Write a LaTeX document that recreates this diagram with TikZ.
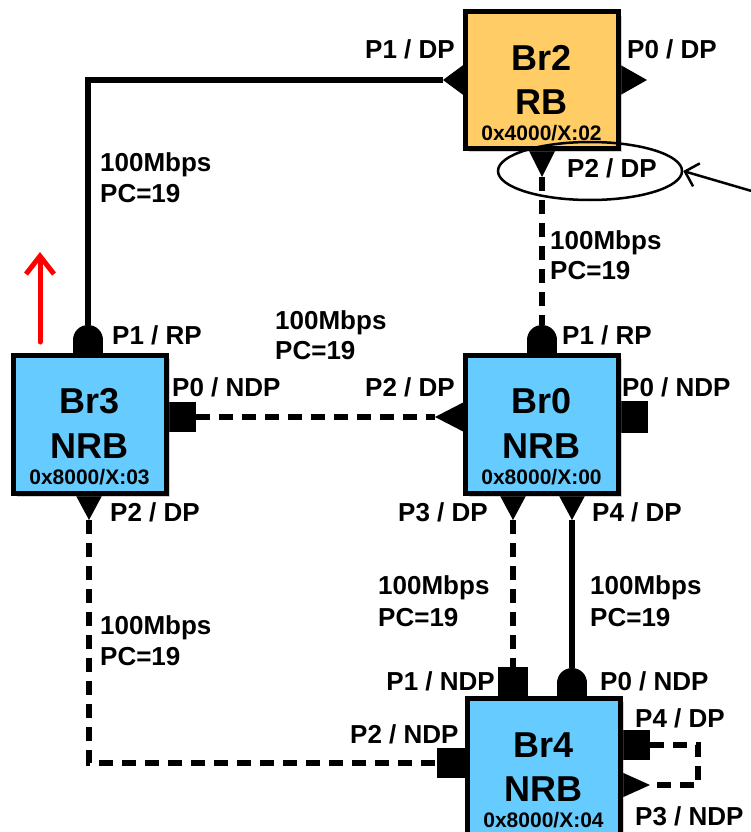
\documentclass[tikz,border=0pt]{standalone}
\usepackage{fontspec}
\setmainfont{Liberation Sans}
\usetikzlibrary{arrows.meta,shapes.geometric,shadows}
\definecolor{nrbblue}{HTML}{66CCFF}
\definecolor{rborange}{HTML}{FFCC66}
\tikzset{
  bridge/.style={draw=black, line width=5pt, minimum width=153pt, minimum height=138pt, inner sep=0pt,
    drop shadow={shadow xshift=4pt, shadow yshift=-4pt, opacity=0.35}},
  link/.style={line width=6pt},
  dlink/.style={line width=6pt, dash pattern=on 14pt off 9pt},
  lbl/.style={font=\fontsize{26}{30}\selectfont\bfseries, inner sep=0pt},
  big/.style={font=\fontsize{36}{40}\selectfont\bfseries, inner sep=0pt},
  idl/.style={font=\fontsize{21}{24}\selectfont\bfseries, inner sep=0pt},
}
\begin{document}
\begin{tikzpicture}[x=1pt,y=-1pt]
\useasboundingbox (0,0) rectangle (750,832);

% ---- port coordinates
\coordinate (br2p1) at (443,80);
\coordinate (br2p2) at (542,177);
\coordinate (br3p1) at (88,325);
\coordinate (br3p0) at (196,417);
\coordinate (br3p2) at (89,520);
\coordinate (br0p1) at (542,325);
\coordinate (br0p2) at (435,417);
\coordinate (br0p3) at (513,520);
\coordinate (br0p4) at (572,520);
\coordinate (br4p1) at (513,667);
\coordinate (br4p0) at (572,668);
\coordinate (br4p2) at (437,763);
\coordinate (br4p4) at (650,745);
\coordinate (br4p3) at (650,785);
\coordinate (loopa) at (698,745);
\coordinate (loopb) at (698,785);

% ---- connectors
\draw[link] (br2p1) -| (br3p1);
\draw[dlink] (br2p2) -- (br0p1);
\draw[dlink] (br3p0) -- (br0p2);
\draw[dlink] (br3p2) |- (br4p2);
\draw[dlink] (br0p3) -- (br4p1);
\draw[link] (br0p4) -- (br4p0);
\draw[dlink] (br4p4) -- (loopa) -- (loopb) -- (br4p3);

% ---- ports
% Br2
\fill (466,63) -- (443,80) -- (466,97) -- cycle;
\fill (617,63) -- (647,80) -- (617,97) -- cycle;
\fill (527,147) -- (542,177) -- (557,147) -- cycle;
% Br3
\fill (88,340) circle (15);
\fill (73,340) rectangle (103,356);
\fill (165,402) rectangle (196,432);
\fill (74,492) -- (89,520) -- (104,492) -- cycle;
% Br0
\fill (542,340) circle (15);
\fill (527,340) rectangle (557,356);
\fill (466,401) -- (435,417) -- (466,433) -- cycle;
\fill (617,401) rectangle (648,433);
\fill (498,492) -- (513,520) -- (528,492) -- cycle;
\fill (557,492) -- (572,520) -- (587,492) -- cycle;
% Br4
\fill (498,667) rectangle (528,699);
\fill (572,683) circle (15);
\fill (557,683) rectangle (587,699);
\fill (437,748) rectangle (468,778);
\fill (619,730) rectangle (650,760);
\fill (619,771) -- (650,785) -- (619,799) -- cycle;

% ---- bridges
\node[bridge, fill=rborange, minimum height=136pt] (br2) at (541.5,80) {};
\node[bridge, fill=nrbblue] (br3) at (89.5,424) {};
\node[bridge, fill=nrbblue] (br0) at (541.5,424) {};
\node[bridge, fill=nrbblue] (br4) at (543.5,767) {};

\node[big, anchor=base] (br2n) at (541.5,71) {Br2};
\node[big, anchor=base] (br2r) at (541.5,115) {RB};
\node[idl, anchor=base] (br2i) at (541.5,140) {0x4000/X:02};

\node[big, anchor=base] (br3n) at (89.5,413) {Br3};
\node[big, anchor=base] (br3r) at (89.5,458) {NRB};
\node[idl, anchor=base] (br3i) at (89.5,484) {0x8000/X:03};

\node[big, anchor=base] (br0n) at (541.5,413) {Br0};
\node[big, anchor=base] (br0r) at (541.5,458) {NRB};
\node[idl, anchor=base] (br0i) at (541.5,484) {0x8000/X:00};

\node[big, anchor=base] (br4n) at (543.5,757) {Br4};
\node[big, anchor=base] (br4r) at (543.5,801) {NRB};
\node[idl, anchor=base] (br4i) at (543.5,827) {0x8000/X:04};

% ---- port labels
\node[lbl, anchor=base east] (l1) at (455,59) {P1 / DP};
\node[lbl, anchor=base west] (l2) at (627,59) {P0 / DP};
\node[lbl, anchor=base west] (l3) at (567,177) {P2 / DP};
\node[lbl, anchor=base west] (l4) at (112,344) {P1 / RP};
\node[lbl, anchor=base west] (l5) at (172,396) {P0 / NDP};
\node[lbl, anchor=base east] (l6) at (455,396) {P2 / DP};
\node[lbl, anchor=base west] (l7) at (562,344) {P1 / RP};
\node[lbl, anchor=base west] (l8) at (622,396) {P0 / NDP};
\node[lbl, anchor=base west] (l9) at (110,521) {P2 / DP};
\node[lbl, anchor=base east] (l10) at (488,521) {P3 / DP};
\node[lbl, anchor=base west] (l11) at (592,521) {P4 / DP};
\node[lbl, anchor=base east] (l12) at (495,690) {P1 / NDP};
\node[lbl, anchor=base west] (l13) at (600,690) {P0 / NDP};
\node[lbl, anchor=base west] (l14) at (350,743) {P2 / NDP};
\node[lbl, anchor=base west] (l15) at (635,727) {P4 / DP};
\node[lbl, anchor=base west] (l16) at (635,825) {P3 / NDP};

% ---- link labels
\node[lbl, anchor=base west] (s1a) at (100,171) {100Mbps};
\node[lbl, anchor=base west] (s1b) at (100,202) {PC=19};
\node[lbl, anchor=base west] (s2a) at (550,249) {100Mbps};
\node[lbl, anchor=base west] (s2b) at (550,279) {PC=19};
\node[lbl, anchor=base west] (s3a) at (275,329) {100Mbps};
\node[lbl, anchor=base west] (s3b) at (275,359) {PC=19};
\node[lbl, anchor=base west] (s4a) at (100,634) {100Mbps};
\node[lbl, anchor=base west] (s4b) at (100,665) {PC=19};
\node[lbl, anchor=base west] (s5a) at (378,594) {100Mbps};
\node[lbl, anchor=base west] (s5b) at (378,626) {PC=19};
\node[lbl, anchor=base west] (s6a) at (590,594) {100Mbps};
\node[lbl, anchor=base west] (s6b) at (590,626) {PC=19};

% ---- highlight
\node[draw, ellipse, line width=2.5pt, minimum width=184pt, minimum height=58pt, inner sep=0pt] (focus) at (590,171) {};
\coordinate (pointer) at (755,192);
\draw[line width=2.5pt, -{Straight Barb[length=12pt,width=24pt]}] (pointer) -- (focus.east);

% ---- red arrow
\coordinate (rbase) at (40,342);
\coordinate (rtip) at (40,252);
\draw[red, line width=5pt, line cap=round, -{Straight Barb[length=18pt,width=28pt]}] (rbase) -- (rtip);
\end{tikzpicture}
\end{document}
